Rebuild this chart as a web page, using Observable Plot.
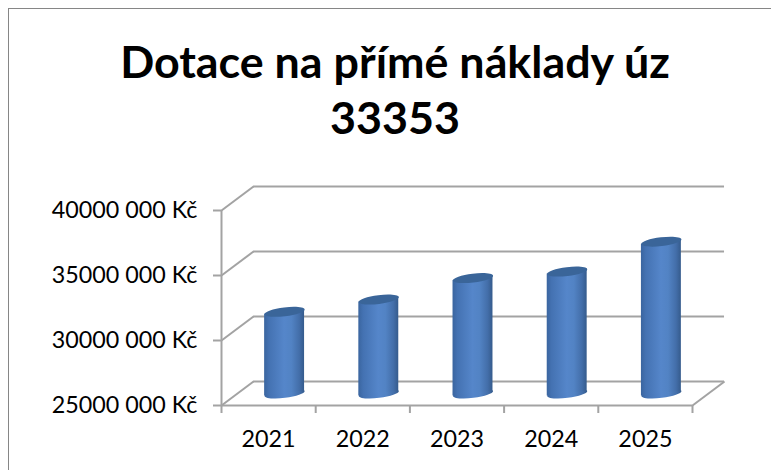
<!DOCTYPE html>
<html>
<head>
<meta charset="utf-8">
<script src="https://cdn.jsdelivr.net/npm/d3@7"></script>
<script src="https://cdn.jsdelivr.net/npm/@observablehq/plot@0.6"></script>
<style>
  html, body { margin: 0; padding: 0; background: #fff; }
  #frame { position: absolute; left: 8px; top: 8px; width: 763px; height: 462px; box-sizing: border-box;
           border-top: 1px solid #868686; border-left: 1px solid #868686; overflow: hidden; }
  #title { height: 150px; box-sizing: border-box; padding: 24px 0 0 10px; margin: 0; text-align: center;
           font: 700 44.8px/56px Lato, sans-serif; color: #000; }
  svg { display: block; }
</style>
</head>
<body>
<div id="frame">
  <h1 id="title">Dotace na přímé náklady úz<br>33353</h1>
  <div id="chart"></div>
</div>
<script>
const years = [2021, 2022, 2023, 2024, 2025];
const values = [31280000, 32230000, 33880000, 34380000, 36680000];
const yTicks = [25000000, 30000000, 35000000, 40000000];
const xEdges = [2020.5, 2021.5, 2022.5, 2023.5, 2024.5, 2025.5];

const depthX = 0.34, depthY = 1846000;      // 3-D depth of the box in data units
const halfWidth = 0.212, tilt = 190000;     // cylinder half width, ellipse tilt in data units
const grey = "#a3a3a3";

const fmt = d => { const s = String(d); return `${s.slice(0, -3)} ${s.slice(-3)} Kč`; };

const ellipse = (rx, ry, angle) => ({
  draw(c) {
    const k = 0.5523, cos = Math.cos(angle), sin = Math.sin(angle);
    const p = (u, v) => [u * rx * cos - v * ry * sin, u * rx * sin + v * ry * cos];
    c.moveTo(...p(1, 0));
    c.bezierCurveTo(...p(1, k), ...p(k, 1), ...p(0, 1));
    c.bezierCurveTo(...p(-k, 1), ...p(-1, k), ...p(-1, 0));
    c.bezierCurveTo(...p(-1, -k), ...p(-k, -1), ...p(0, -1));
    c.bezierCurveTo(...p(k, -1), ...p(1, -k), ...p(1, 0));
    c.closePath();
  }
});
const capSymbol = ellipse(20.2, 4.4, -0.12);

const rows = years.flatMap((year, i) => [
  { year, x: year - halfWidth, top: values[i] - tilt, bottom: 25000000 - tilt },
  { year, x: year + halfWidth, top: values[i] + tilt, bottom: 25000000 + tilt }
]);
const bars = years.map((year, i) => ({ year, value: values[i] }));

const defs = () => {
  const d = d3.create("svg:defs");
  const g = d.append("linearGradient").attr("id", "cyl");
  [[0, "#3a659f"], [0.12, "#4472b2"], [0.5, "#5586ca"], [0.68, "#5283c4"], [0.88, "#436ea9"], [1, "#355b8c"]]
    .forEach(([o, c]) => g.append("stop").attr("offset", o).attr("stop-color", c));
  return d.node();
};

const lineStyle = { stroke: grey, strokeWidth: 2 };
const cyl = { dx: 16, dy: -12 };

document.getElementById("chart").append(Plot.plot({
  width: 762, height: 311,
  marginLeft: 212, marginRight: 79, marginTop: 51, marginBottom: 65,
  style: { background: "transparent", fontFamily: "Lato, sans-serif" },
  x: { domain: [2020.5, 2025.5], axis: null },
  y: { domain: [25000000, 40000000], axis: null },
  marks: [
    defs,
    Plot.ruleY(yTicks, { y: d => d + depthY, x1: 2020.5 + depthX, x2: 2025.5 + depthX, ...lineStyle }),
    Plot.link(yTicks, { x1: 2020.5, y1: d => d, x2: 2020.5 + depthX, y2: d => d + depthY, ...lineStyle }),
    Plot.link([25000000], { x1: 2025.5, y1: d => d, x2: 2025.5 + depthX, y2: d => d + depthY, ...lineStyle }),
    Plot.ruleX([2020.5], { y1: 25000000, y2: 40000000, ...lineStyle }),
    Plot.ruleY([25000000], { x1: 2020.5, x2: 2025.5, ...lineStyle }),
    Plot.axisY({ ticks: yTicks, tickFormat: fmt, tickSize: 8, tickPadding: 16, stroke: grey, strokeWidth: 2,
                 fontSize: 23.3, fill: "#000", label: null }),
    Plot.axisX({ ticks: xEdges, tickFormat: () => "", tickSize: 8, stroke: grey, strokeWidth: 2, label: null }),
    Plot.axisX({ ticks: years, tickFormat: d => String(d), tickSize: 0, tickPadding: 25, fontSize: 23.3, fill: "#000", label: null }),
    Plot.dot(bars, { x: "year", y: () => 25000000, symbol: capSymbol, fill: "url(#cyl)", stroke: "none", ...cyl }),
    Plot.area(rows, { x1: "x", y1: "top", y2: "bottom", z: "year", fill: "url(#cyl)", ...cyl }),
    Plot.dot(bars, { x: "year", y: "value", symbol: capSymbol, fill: "#3a6599", stroke: "none", ...cyl })
  ]
}));
</script>
</body>
</html>
